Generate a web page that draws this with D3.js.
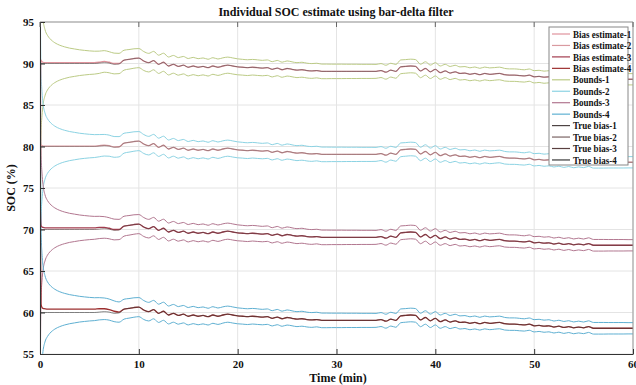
<!DOCTYPE html>
<html>
<head>
<meta charset="utf-8">
<script src="https://cdn.jsdelivr.net/npm/d3@7"></script>
<style>
  body { margin: 0; background: #fff; }
  svg { display: block; font-family: "Liberation Serif", "Times New Roman", serif; font-weight: bold; }
</style>
</head>
<body>
<svg></svg>
<script>
var width = 636;
var height = 385;

// time samples (min)
var times = [0, 0.1, 0.2, 0.3, 0.5, 0.75, 1].concat(d3.range(1.5, 60.01, 0.5));

// base level of each channel (true SOC at t=0)
var bases = [90, 80, 70, 60];

// common drift of the true bias (t = 0 .. 5.5, then 6 .. 60 every 0.5)
var trend = [0, 0, 0, 0, 0, 0, 0, 0, 0, 0, 0, 0, 0, 0, 0, 0,
    0.05, 0.1, 0.05, -0.1, -0.05, 0.4, 0.5, 0.6, 0.65, 0.3,
    0.1, 0.35, -0.1, 0.15, -0.3, -0.1, -0.35, -0.2, -0.45, -0.3,
    -0.45, -0.35, -0.5, -0.3, -0.45, -0.3, -0.2, -0.3, -0.4, -0.45,
    -0.5, -0.45, -0.5, -0.55, -0.5, -0.7, -0.55, -0.75, -0.6, -0.7,
    -0.8, -0.75, -0.85, -0.9, -0.85, -0.95, -0.95, -0.95, -0.95, -0.95,
    -0.95, -0.95, -0.95, -0.95, -0.95, -0.95, -0.95, -0.85, -1.05, -0.8,
    -0.95, -0.4, -0.35, -0.3, -0.35, -0.9, -0.6, -1.0, -0.7, -1.1,
    -0.9, -1.15, -1.0, -1.2, -1.15, -1.3, -1.2, -1.35, -1.2, -1.3,
    -1.25, -1.2, -1.35, -1.4, -1.4, -1.45, -1.5, -1.4, -1.6, -1.55,
    -1.65, -1.6, -1.75, -1.65, -1.8, -1.7, -1.85, -1.75, -1.85, -1.7,
    -1.9, -1.9, -1.9, -1.9, -1.9, -1.9, -1.9, -1.9, -1.9];

// half width of the bounds around each estimate
var halfWidth = [30, 9, 6.5, 5.2, 4.0, 3.3, 2.9, 2.4, 2.1, 1.9, 1.75, 1.65, 1.55, 1.48, 1.42, 1.38,
    1.34, 1.3, 1.27, 1.25, 1.22, 1.2, 1.18, 1.17, 1.15, 1.14,
    1.12, 1.11, 1.1, 1.09, 1.08, 1.07, 1.06, 1.05, 1.05, 1.04,
    1.03, 1.02, 1.01, 1.0, 0.99, 0.98, 0.97, 0.97, 0.96, 0.95,
    0.95, 0.94, 0.94, 0.93, 0.93, 0.92, 0.92, 0.91, 0.91, 0.9,
    0.9, 0.9, 0.89, 0.89, 0.88, 0.88, 0.88, 0.87, 0.87, 0.87,
    0.86, 0.86, 0.86, 0.85, 0.85, 0.85, 0.84, 0.84, 0.84, 0.83,
    0.83, 0.83, 0.82, 0.82, 0.82, 0.81, 0.81, 0.81, 0.8, 0.8,
    0.8, 0.79, 0.79, 0.79, 0.78, 0.78, 0.78, 0.77, 0.77, 0.77,
    0.76, 0.76, 0.76, 0.75, 0.75, 0.75, 0.74, 0.74, 0.74, 0.73,
    0.73, 0.73, 0.72, 0.72, 0.72, 0.71, 0.71, 0.71, 0.7, 0.7,
    0.7, 0.7, 0.7, 0.69, 0.69, 0.69, 0.69, 0.68, 0.68];

// estimate error before convergence (t = 0 .. 8.5), zero afterwards
var estErr1 = [-15, 0.4, 0.2, 0.15, 0.1, 0.1, 0.1, 0.1, 0.1, 0.1, 0.1, 0.1, 0.1, 0.1, 0.1, 0.1, 0.1, 0.15, 0.1, 0.1, 0.05, 0];
var estErr2 = [-5, 0.2, 0.1, 0.05, 0.05, 0.05, 0.05, 0.05, 0.05, 0.05, 0.05, 0.05, 0.05, 0.05, 0.05, 0.05, 0.05, 0.05, 0.05, 0.05, 0.02, 0];
var estErr3 = [5, 0.5, 0.3, 0.25, 0.2, 0.2, 0.2, 0.2, 0.2, 0.2, 0.2, 0.2, 0.2, 0.2, 0.2, 0.2, 0.2, 0.15, 0.1, 0.1, 0.05, 0];
var estErr4 = [15, 1.0, 0.6, 0.5, 0.45, 0.4, 0.4, 0.4, 0.4, 0.4, 0.4, 0.4, 0.4, 0.4, 0.4, 0.4, 0.4, 0.35, 0.3, 0.25, 0.1, 0];
var estErrs = [estErr1, estErr2, estErr3, estErr4];

var estColors = ['#e0939c', '#d99aa0', '#a23c4e', '#9c2f2f'];
var boundColors = ['#bccb86', '#8cd3e3', '#b27790', '#5fb0d2'];
var trueColors = ['#4e4444', '#7a6464', '#5a4040', '#3a3a3a'];

var legendLabels = ['Bias estimate-1', 'Bias estimate-2', 'Bias estimate-3', 'Bias estimate-4',
    'Bounds-1', 'Bounds-2', 'Bounds-3', 'Bounds-4',
    'True bias-1', 'True bias-2', 'True bias-3', 'True bias-4'];

var xTicks = [0, 10, 20, 30, 40, 50, 60];
var yTicks = [55, 60, 65, 70, 75, 80, 85, 90, 95];

//..................................................................................//

var svg = d3.select('svg')
    .attr('width', width)
    .attr('height', height);

var x = d3.scaleLinear().domain([0, 60]).range([40, 633]);
var y = d3.scaleLinear().domain([55, 95]).range([354, 22]);

svg.append('defs').append('clipPath').attr('id', 'clip')
    .append('rect')
    .attr('x', x(0)).attr('y', y(95))
    .attr('width', x(60) - x(0)).attr('height', y(55) - y(95));

// grid
var grid = svg.append('g');
grid.selectAll('.gx').data(xTicks).enter().append('line')
    .attr('x1', d => x(d)).attr('x2', d => x(d))
    .attr('y1', y(55)).attr('y2', y(95))
    .attr('stroke', '#e4e4e4').attr('stroke-width', 1);
grid.selectAll('.gy').data(yTicks).enter().append('line')
    .attr('x1', x(0)).attr('x2', x(60))
    .attr('y1', d => y(d)).attr('y2', d => y(d))
    .attr('stroke', '#e4e4e4').attr('stroke-width', 1);

// series
var series = [];
bases.forEach(function (b, k) {
    var truth = times.map((t, i) => [t, b + trend[i]]);
    var est = times.map((t, i) => [t, b + trend[i] + (i < estErrs[k].length ? estErrs[k][i] : 0)]);
    var up = est.map((p, i) => [p[0], p[1] + halfWidth[i]]);
    var lo = est.map((p, i) => [p[0], p[1] - halfWidth[i]]);
    series.push({ k: k, truth: truth, est: est, up: up, lo: lo });
});

var line = d3.line()
    .x(d => x(d[0]))
    .y(d => y(d[1]))
    .curve(d3.curveMonotoneX);

var plot = svg.append('g').attr('clip-path', 'url(#clip)');

series.forEach(function (s) {
    plot.append('path').datum(s.up).attr('d', line)
        .attr('fill', 'none').attr('stroke', boundColors[s.k]).attr('stroke-width', 1);
    plot.append('path').datum(s.lo).attr('d', line)
        .attr('fill', 'none').attr('stroke', boundColors[s.k]).attr('stroke-width', 1);
});
series.forEach(function (s) {
    plot.append('path').datum(s.est).attr('d', line)
        .attr('fill', 'none').attr('stroke', estColors[s.k]).attr('stroke-width', 1.3);
});
series.forEach(function (s) {
    plot.append('path').datum(s.truth).attr('d', line)
        .attr('fill', 'none').attr('stroke', trueColors[s.k]).attr('stroke-width', 0.8)
        .attr('stroke-opacity', 0.75);
});

// box + ticks
svg.append('line').attr('x1', x(0)).attr('x2', x(60)).attr('y1', y(95)).attr('y2', y(95))
    .attr('stroke', '#999').attr('stroke-width', 1);
svg.append('line').attr('x1', x(60)).attr('x2', x(60)).attr('y1', y(95)).attr('y2', y(55))
    .attr('stroke', '#999').attr('stroke-width', 1);

var xAxis = svg.append('g')
    .attr('transform', 'translate(0,' + y(55) + ')')
    .call(d3.axisBottom(x).tickValues(xTicks).tickSizeInner(-5).tickSizeOuter(0).tickPadding(6));
var yAxis = svg.append('g')
    .attr('transform', 'translate(' + x(0) + ',0)')
    .call(d3.axisLeft(y).tickValues(yTicks).tickSizeInner(-5).tickSizeOuter(0).tickPadding(6));

[xAxis, yAxis].forEach(function (a) {
    a.select('.domain').attr('stroke', '#333');
    a.selectAll('.tick line').attr('stroke', '#333');
    a.selectAll('text')
        .attr('fill', '#111')
        .style('font-family', '"Liberation Serif", "Times New Roman", serif')
        .style('font-weight', 'bold')
        .style('font-size', '11px');
});

// top ticks
svg.selectAll('.tt').data(xTicks).enter().append('line')
    .attr('x1', d => x(d)).attr('x2', d => x(d))
    .attr('y1', y(95)).attr('y2', y(95) + 5)
    .attr('stroke', '#666');

// labels
svg.append('text')
    .attr('x', 336).attr('y', 16)
    .attr('text-anchor', 'middle')
    .style('font-size', '12px')
    .attr('fill', '#111')
    .text('Individual SOC estimate using bar-delta filter');

svg.append('text')
    .attr('x', 338).attr('y', 382)
    .attr('text-anchor', 'middle')
    .style('font-size', '12px')
    .attr('fill', '#111')
    .text('Time (min)');

svg.append('text')
    .attr('transform', 'translate(15,' + y(75) + ') rotate(-90)')
    .attr('text-anchor', 'middle')
    .style('font-size', '12px')
    .attr('fill', '#111')
    .text('SOC (%)');

// legend
var legendColors = estColors.concat(boundColors, trueColors);
var lg = svg.append('g').attr('transform', 'translate(549,27)');
lg.append('rect')
    .attr('width', 79).attr('height', 138)
    .attr('fill', '#fff').attr('stroke', '#888').attr('stroke-width', 1);

var items = lg.selectAll('.item').data(legendLabels).enter().append('g')
    .attr('transform', (d, i) => 'translate(0,' + (7 + i * 11.45) + ')');
items.append('line')
    .attr('x1', 3).attr('x2', 21)
    .attr('stroke', (d, i) => legendColors[i]).attr('stroke-width', 1.2);
items.append('text')
    .attr('transform', 'translate(24,0) scale(0.86,1)')
    .attr('dy', '0.35em')
    .style('font-size', '10.5px')
    .attr('fill', '#111')
    .text(d => d);
</script>
</body>
</html>
